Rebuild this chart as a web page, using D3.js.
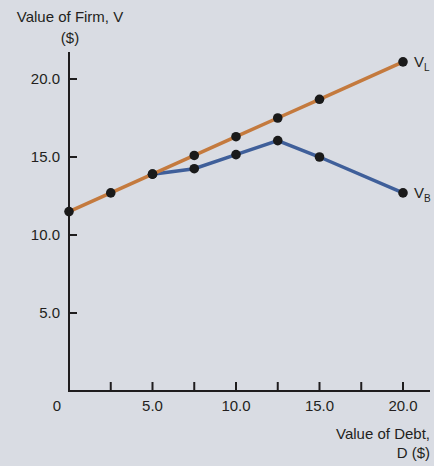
<!DOCTYPE html>
<html>
<head>
<meta charset="utf-8">
<script src="https://cdn.jsdelivr.net/npm/d3@7"></script>
<style>
  html, body { margin: 0; padding: 0; background: #d9dce3; }
  svg { display: block; }
  text { font-family: "Liberation Sans", Arial, Helvetica, sans-serif; fill: #231f20; }
</style>
</head>
<body>
<svg id="chart" width="434" height="466"></svg>
<script>
// Value of the levered firm (V_L) and with bankruptcy costs (V_B) against debt D
const debtL = [0, 2.5, 5, 7.5, 10, 12.5, 15, 20];
const valueL = [11.5, 12.7, 13.9, 15.1, 16.3, 17.5, 18.7, 21.1];
const debtB = [5, 7.5, 10, 12.5, 15, 20];
const valueB = [13.9, 14.25, 15.15, 16.05, 15.0, 12.7];
const xTicks = [2.5, 5, 7.5, 10, 12.5, 15, 17.5, 20];
const xTickLabels = [5, 10, 15, 20];
const yTicks = [5, 10, 15, 20];

const svg = d3.select("#chart");
const x = d3.scaleLinear().domain([0, 20]).range([69, 403]);
const y = d3.scaleLinear().domain([0, 20]).range([391, 79]);

const ink = "#1f1d1e";

// axes
svg.append("line").attr("x1", x(0)).attr("x2", x(0)).attr("y1", 52).attr("y2", y(0) + 1)
  .attr("stroke", ink).attr("stroke-width", 2);
svg.append("line").attr("x1", x(0) - 1).attr("x2", 430).attr("y1", y(0)).attr("y2", y(0))
  .attr("stroke", ink).attr("stroke-width", 2);

// y ticks (inside) and labels
svg.selectAll(".yt").data(yTicks).join("line")
  .attr("x1", x(0)).attr("x2", x(0) + 8)
  .attr("y1", d => y(d)).attr("y2", d => y(d))
  .attr("stroke", ink).attr("stroke-width", 2);
svg.selectAll(".yl").data(yTicks).join("text")
  .attr("x", x(0) - 9).attr("y", d => y(d)).attr("dy", "0.36em")
  .attr("text-anchor", "end").attr("font-size", 15)
  .text(d => d3.format(".1f")(d));

// x ticks (inside) and labels
svg.selectAll(".xt").data(xTicks).join("line")
  .attr("x1", d => x(d)).attr("x2", d => x(d))
  .attr("y1", y(0)).attr("y2", y(0) - 9)
  .attr("stroke", ink).attr("stroke-width", 2);
svg.selectAll(".xl").data(xTickLabels).join("text")
  .attr("x", d => x(d)).attr("y", 406).attr("dy", "0.36em")
  .attr("text-anchor", "middle").attr("font-size", 15)
  .text(d => d3.format(".1f")(d));
svg.append("text").attr("x", x(0) - 12).attr("y", 406).attr("dy", "0.36em")
  .attr("text-anchor", "middle").attr("font-size", 15).text("0");

// axis titles
svg.append("text").attr("x", 70).attr("y", 17).attr("dy", "0.36em")
  .attr("text-anchor", "middle").attr("font-size", 15).text("Value of Firm, V");
svg.append("text").attr("x", 70).attr("y", 38).attr("dy", "0.36em")
  .attr("text-anchor", "middle").attr("font-size", 15).text("($)");
svg.append("text").attr("x", 430).attr("y", 434).attr("dy", "0.36em")
  .attr("text-anchor", "end").attr("font-size", 15).text("Value of Debt,");
svg.append("text").attr("x", 430).attr("y", 453).attr("dy", "0.36em")
  .attr("text-anchor", "end").attr("font-size", 15).text("D ($)");

// lines
const line = d3.line().x(d => x(d[0])).y(d => y(d[1]));
const ptsL = debtL.map((d, i) => [d, valueL[i]]);
const ptsB = debtB.map((d, i) => [d, valueB[i]]);

svg.append("path").datum(ptsB).attr("d", line)
  .attr("fill", "none").attr("stroke", "#3f5f9a").attr("stroke-width", 3.5);
svg.append("path").datum(ptsL).attr("d", line)
  .attr("fill", "none").attr("stroke", "#c47a3e").attr("stroke-width", 3.5);

// points
svg.selectAll(".pl").data(ptsL.concat(ptsB)).join("circle")
  .attr("cx", d => x(d[0])).attr("cy", d => y(d[1])).attr("r", 4.8)
  .attr("fill", "#1a1a1a");

// series labels
function seriesLabel(pt, sub) {
  const t = svg.append("text").attr("x", x(pt[0]) + 11).attr("y", y(pt[1])).attr("dy", "0.36em")
    .attr("font-size", 15);
  t.append("tspan").text("V");
  t.append("tspan").attr("font-size", 10).attr("dy", 4).text(sub);
}
seriesLabel(ptsL[ptsL.length - 1], "L");
seriesLabel(ptsB[ptsB.length - 1], "B");
</script>
</body>
</html>
